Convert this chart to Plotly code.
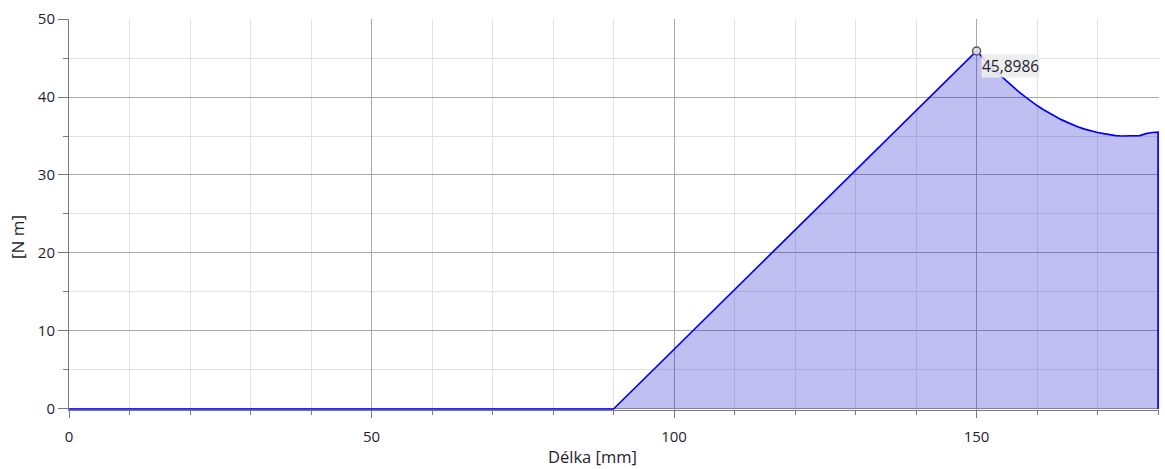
import plotly.graph_objects as go

# Torque profile along the length
delka_mm = [0, 90, 150, 151, 152, 153, 154, 155, 156, 157, 158, 159, 160,
            161, 162, 163, 164, 165, 166, 167, 168, 169, 170, 171, 172, 173,
            174, 175, 176, 177, 178, 179, 180, 180]
moment_nm = [0, 0, 45.8986, 45.0, 44.2, 43.4, 42.7, 42.0, 41.3, 40.65, 40.05,
             39.45, 38.9, 38.4, 37.95, 37.5, 37.1, 36.75, 36.4, 36.1, 35.85,
             35.6, 35.45, 35.3, 35.15, 35.05, 35.0, 35.0, 35.0, 35.05, 35.3,
             35.45, 35.5, 0]

# Highlighted maximum
peak_x = [150]
peak_y = [45.8986]
peak_label = "45,8986"

x_title = "Délka [mm]"
y_title = "[N m]"

FONT = "Open Sans"
TEXT_COLOR = "#1e1e2e"
AXIS_COLOR = "#7a7a7a"

fig = go.Figure()

fig.add_trace(go.Scatter(
    x=delka_mm, y=moment_nm,
    mode="lines",
    line=dict(color="#0000ff", width=1.7),
    fill="tozeroy",
    fillcolor="rgba(0,0,200,0.25)",
    hoverinfo="skip",
    showlegend=False,
))

fig.add_trace(go.Scatter(
    x=peak_x, y=peak_y,
    mode="markers",
    marker=dict(size=8, color="rgba(225,225,225,0.9)",
                line=dict(color="#5a5a5a", width=1.5)),
    cliponaxis=False,
    showlegend=False,
))

fig.add_annotation(
    x=peak_x[0], y=peak_y[0],
    text=peak_label,
    showarrow=False,
    xanchor="left", yanchor="top",
    xshift=4, yshift=-3,
    font=dict(family=FONT, size=15.5, color=TEXT_COLOR),
    bgcolor="rgba(236,236,236,0.9)",
    borderpad=0,
)

# Axis titles placed as free text
fig.add_annotation(
    xref="paper", yref="paper", x=0.48, y=0, yshift=-46,
    xanchor="center", yanchor="middle",
    text=x_title, showarrow=False,
    font=dict(family=FONT, size=16.5, color=TEXT_COLOR),
)
fig.add_annotation(
    xref="paper", yref="paper", x=0, xshift=-51, y=0.4425,
    xanchor="center", yanchor="middle", textangle=-90,
    text=y_title, showarrow=False,
    font=dict(family=FONT, size=17, color=TEXT_COLOR),
)

fig.update_layout(
    width=1165, height=469,
    margin=dict(l=69, r=6, t=19, b=59),
    paper_bgcolor="white",
    plot_bgcolor="white",
    font=dict(family=FONT, size=15, color=TEXT_COLOR),
    xaxis=dict(
        range=[0, 180.15],
        dtick=50, tick0=0,
        showgrid=True, gridcolor="#a8a8a8", gridwidth=1,
        zeroline=False,
        showline=True, linecolor=AXIS_COLOR, linewidth=1,
        layer="below traces",
        ticks="outside", ticklen=7, tickcolor=AXIS_COLOR,
        ticklabelstandoff=6,
        minor=dict(dtick=10, showgrid=True, gridcolor="#e2e2e2",
                   ticks="outside", ticklen=4, tickcolor=AXIS_COLOR),
        tickfont=dict(family=FONT, size=15, color=TEXT_COLOR),
    ),
    yaxis=dict(
        range=[-0.13, 50],
        dtick=10, tick0=0,
        showgrid=True, gridcolor="#a8a8a8", gridwidth=1,
        zeroline=False,
        showline=True, linecolor=AXIS_COLOR, linewidth=1,
        layer="below traces",
        ticks="outside", ticklen=10, tickcolor=AXIS_COLOR,
        minor=dict(dtick=5, showgrid=True, gridcolor="#e2e2e2",
                   ticks="outside", ticklen=5, tickcolor=AXIS_COLOR),
        tickfont=dict(family=FONT, size=15, color=TEXT_COLOR),
    ),
)

fig.write_html("out.html")
